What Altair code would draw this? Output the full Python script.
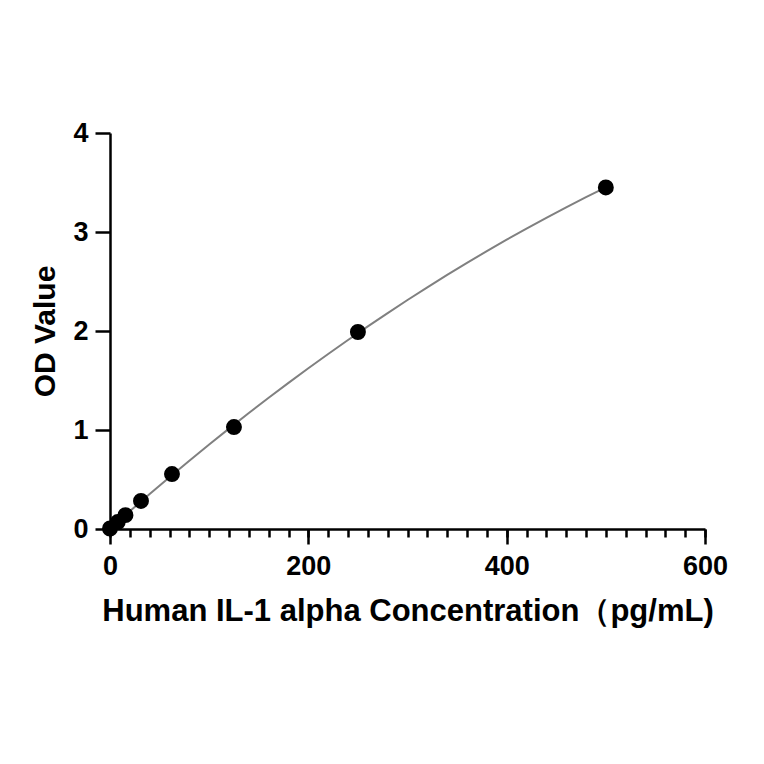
import altair as alt
import pandas as pd

conc = [0, 7.8, 15.6, 31.25, 62.5, 125, 250, 500]
od = [0.005, 0.07, 0.14, 0.283, 0.555, 1.03, 1.99, 3.45]

x_major = [0, 200, 400, 600]
x_minor = list(range(0, 601, 20))
y_major = [0, 1, 2, 3, 4]

df = pd.DataFrame({"conc": conc, "od": od})

FONT = "Liberation Sans"
x_title = "Human IL-1 alpha Concentration（pg/mL)"

xscale = alt.Scale(domain=[0, 600], nice=False, zero=False)
yscale = alt.Scale(domain=[0, 4], nice=False)

y_axis = alt.Axis(
    values=y_major, tickSize=15, tickWidth=2.5, domainWidth=2.5,
    domainColor="black", tickColor="black", grid=False,
    labelFont=FONT, labelFontSize=27, labelFontWeight="bold", labelColor="black",
    labelPadding=7, title="OD Value", titleFont=FONT, titleFontSize=30,
    titleFontWeight="bold", titleColor="black", titlePadding=12)

base = alt.Chart(df)

fit = base.transform_regression(
    "conc", "od", method="poly", order=2, extent=[0, 500]
).mark_line(color="#808080", strokeWidth=2).encode(
    x=alt.X("conc:Q", scale=xscale, axis=alt.Axis(
        values=x_minor, labels=False, tickSize=8, tickWidth=2.5, domain=False,
        grid=False, title=None, orient="bottom", tickColor="black")),
    y=alt.Y("od:Q", scale=yscale, axis=y_axis),
)

pts = base.mark_circle(size=254, color="black", opacity=1).encode(
    x=alt.X("conc:Q", scale=xscale, axis=alt.Axis(
        values=x_major, tickSize=15, tickWidth=2.5, domainWidth=2.5,
        domainColor="black", tickColor="black", grid=False,
        labelFont=FONT, labelFontSize=27, labelFontWeight="bold", labelColor="black",
        labelPadding=9, title=x_title, titleFont=FONT, titleFontSize=31,
        titleFontWeight="bold", titleColor="black", titlePadding=17, orient="bottom",
        labelFlush=False)),
    y=alt.Y("od:Q", scale=yscale, axis=y_axis),
)

chart = alt.layer(fit, pts).resolve_scale(x="independent").resolve_axis(x="independent").properties(
    width=595, height=396,
    background="white",
    autosize=alt.AutoSizeParams(type="none"),
    padding={"left": 102, "top": 125, "right": 40, "bottom": 200},
).configure_view(stroke=None, strokeWidth=0)

chart.save("out.html", embed_options={"renderer": "svg", "actions": False})
